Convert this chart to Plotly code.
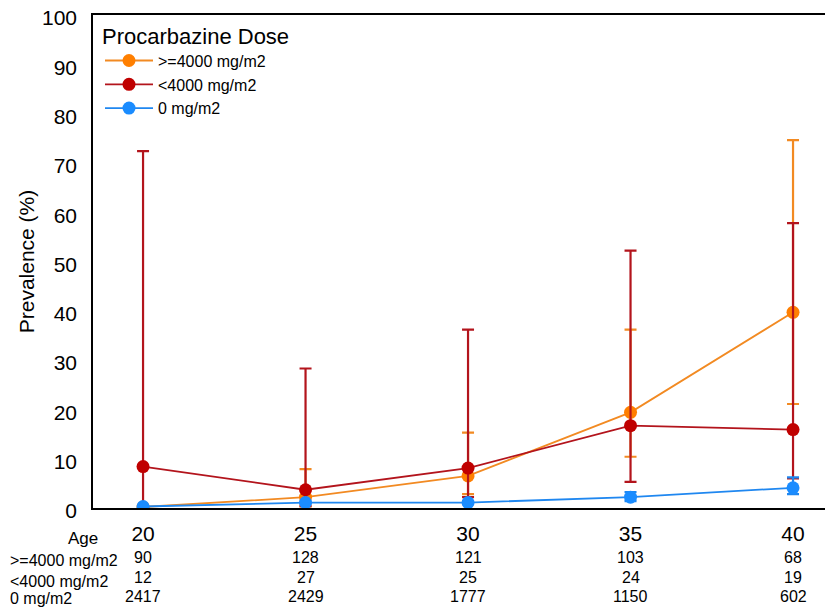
import plotly.graph_objects as go

ages = [20, 25, 30, 35, 40]
series_names = [">=4000 mg/m2", "<4000 mg/m2", "0 mg/m2"]

hi_val = [0.2, 2.2, 6.5, 19.4, 39.7]
hi_upper = [0.2, 7.9, 15.3, 36.2, 74.6]
hi_lower = [0.2, 0.3, 2.8, 10.4, 21.1]

lo_val = [8.4, 3.7, 8.1, 16.7, 15.9]
lo_upper = [72.4, 28.3, 36.2, 52.2, 57.8]
lo_lower = [0.2, 0.4, 2.2, 5.3, 6.0]

zero_val = [0.3, 1.1, 1.1, 2.2, 4.1]
zero_upper = [0.4, 1.3, 1.4, 3.2, 6.2]
zero_lower = [0.2, 0.9, 0.8, 1.4, 2.8]

n_hi = [90, 128, 121, 103, 68]
n_lo = [12, 27, 25, 24, 19]
n_zero = [2417, 2429, 1777, 1150, 602]

line_colors = ["#f28a22", "#b3141c", "#1f87f0"]
marker_colors = ["#ff7f00", "#c00000", "#1a8cff"]

FONT = "Liberation Sans, Arial, sans-serif"

# the page body adds an 8px offset; geometry below is in figure pixels
OFF = 8
W, H = 833 - OFF, 610 - OFF
L, T, B = 93 - OFF, 15 - OFF, 508 - OFF


def paper_y(py):
    # py given in window pixels
    return (B - (py - OFF)) / (B - T)


fig = go.Figure()
for name, val, up, lo, lc, mc in [
    (series_names[0], hi_val, hi_upper, hi_lower, line_colors[0], marker_colors[0]),
    (series_names[1], lo_val, lo_upper, lo_lower, line_colors[1], marker_colors[1]),
    (series_names[2], zero_val, zero_upper, zero_lower, line_colors[2], marker_colors[2]),
]:
    fig.add_trace(go.Scatter(
        x=ages, y=val, name=name, mode="lines+markers",
        line=dict(color=lc, width=1.8),
        marker=dict(color=mc, size=13),
        error_y=dict(type="data", symmetric=False,
                     array=[u - v for u, v in zip(up, val)],
                     arrayminus=[v - l for v, l in zip(val, lo)],
                     color=lc, thickness=2.2, width=6),
    ))

# table below axis
row_counts = [n_hi, n_lo, n_zero]
label_y = [560, 581, 598]
count_y = [557, 577, 596]
for lab, counts, ly, cy in zip(series_names, row_counts, label_y, count_y):
    fig.add_annotation(x=0, xref="paper", xshift=-85, xanchor="left",
                       y=paper_y(ly), yref="paper", yanchor="middle", text=lab,
                       showarrow=False, font=dict(family=FONT, size=16, color="#000"))
    for a, c in zip(ages, counts):
        fig.add_annotation(x=a, xref="x", y=paper_y(cy), yref="paper", yanchor="middle",
                           text=str(c), showarrow=False,
                           font=dict(family=FONT, size=16, color="#000"))

fig.add_annotation(x=0, xref="paper", xshift=7, xanchor="right",
                   y=paper_y(538), yref="paper", yanchor="middle",
                   text="Age", showarrow=False,
                   font=dict(family=FONT, size=17, color="#000"))

fig.update_layout(
    width=W, height=H,
    margin=dict(l=L, r=0, t=T, b=H - B, autoexpand=False),
    paper_bgcolor="white", plot_bgcolor="white",
    font=dict(family=FONT, color="#000"),
    showlegend=True,
    legend=dict(x=7 / (W - L), y=1.0, xanchor="left", yanchor="top",
                title=dict(text="Procarbazine Dose", font=dict(size=22, family=FONT)),
                font=dict(size=16, family=FONT), bgcolor="rgba(0,0,0,0)",
                itemwidth=48),
    xaxis=dict(range=[18.46, 41.23], tickvals=ages, ticktext=[str(a) for a in ages],
               showgrid=False, zeroline=False, showline=True, mirror=True,
               linecolor="#000", linewidth=2, ticks="outside", ticklen=6,
               tickcolor="rgba(0,0,0,0)", tickfont=dict(size=21, family=FONT),
               automargin=False, ticklabeloverflow="allow"),
    yaxis=dict(range=[0, 100], tickvals=[0, 10, 20, 30, 40, 50, 60, 70, 80, 90, 100],
               showgrid=False, zeroline=False, showline=True, linecolor="#000",
               linewidth=1.5, ticks="outside", ticklen=10, tickcolor="rgba(0,0,0,0)",
               tickfont=dict(size=21, family=FONT), automargin=False,
               ticklabeloverflow="allow", ticklabelshift=3,
               title=dict(text="Prevalence (%)", font=dict(size=21, family=FONT), standoff=2)),
)

fig.write_html("out.html")
